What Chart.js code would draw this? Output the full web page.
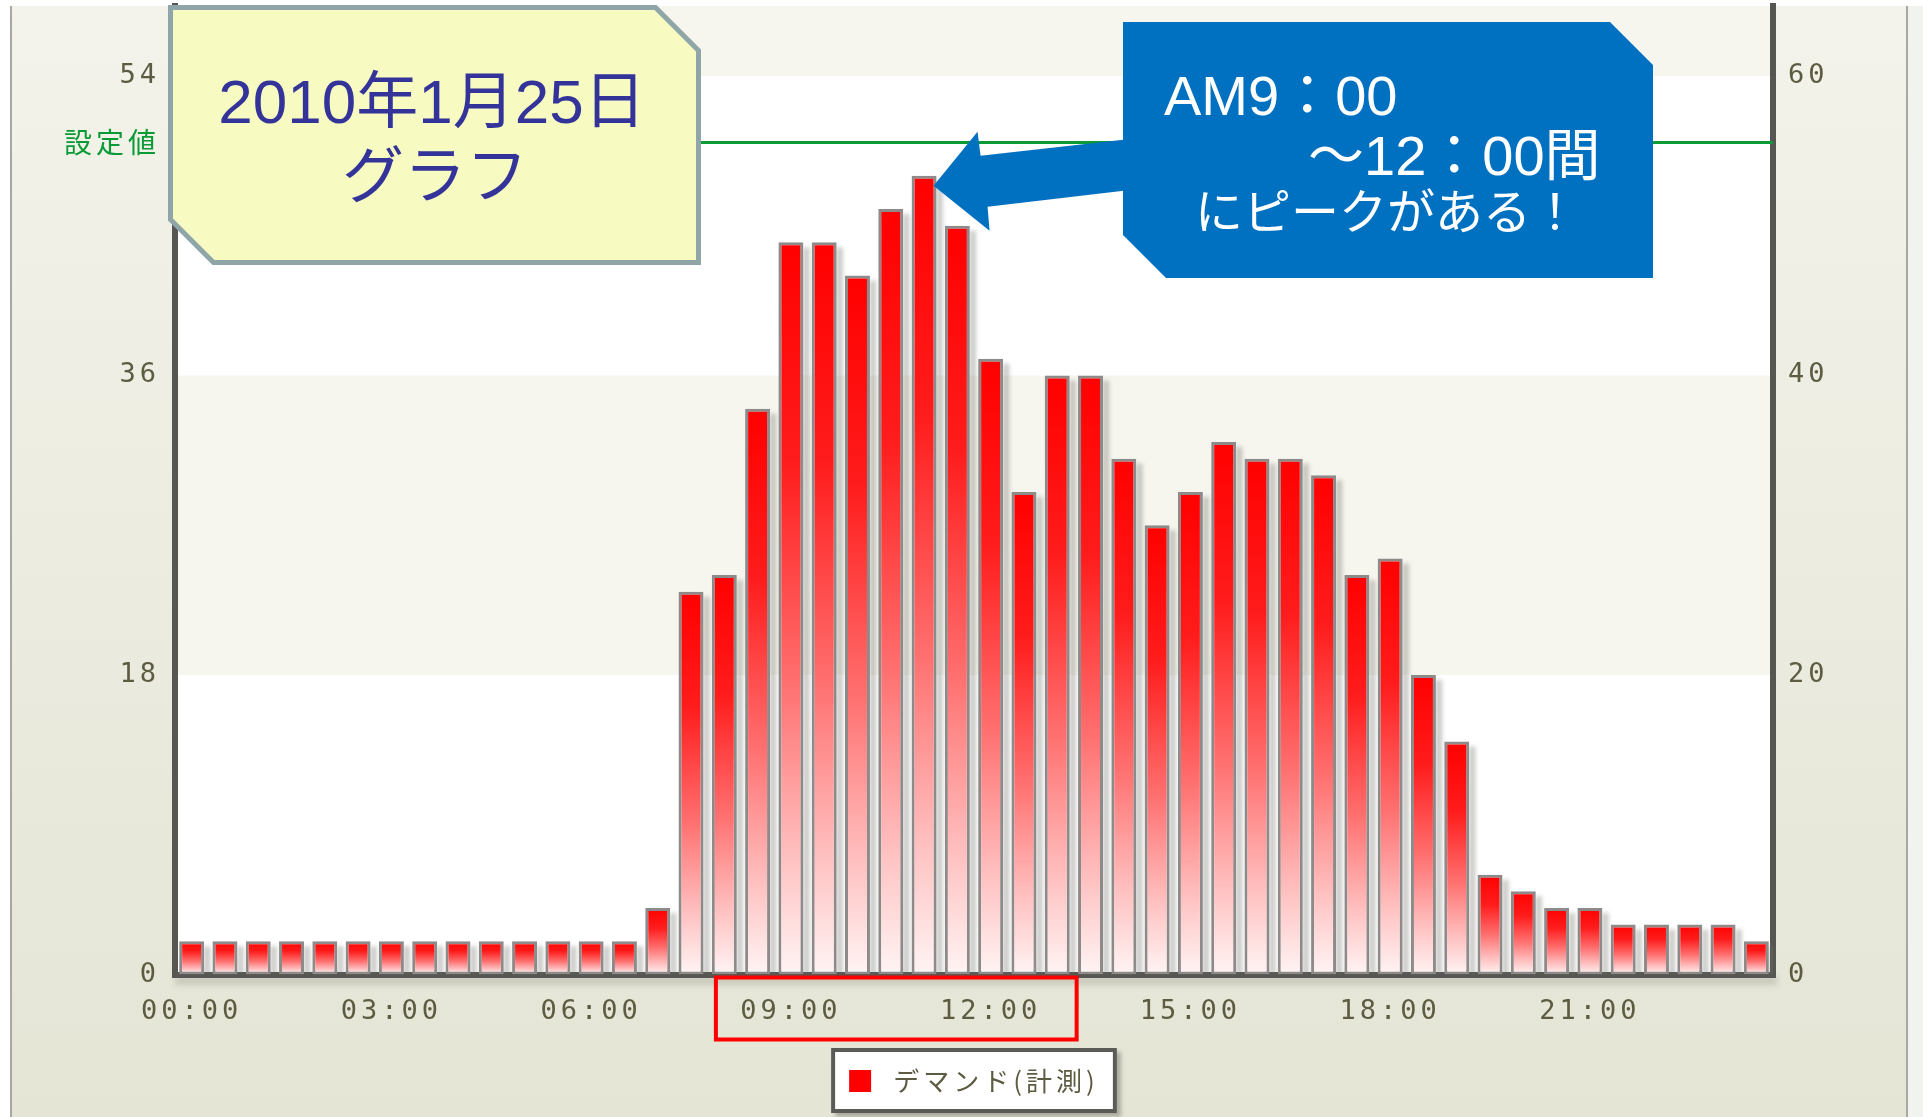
<!DOCTYPE html>
<html lang="ja">
<head>
<meta charset="utf-8">
<title>デマンドグラフ 2010年1月25日</title>
<script src="https://cdn.jsdelivr.net/npm/chart.js@4.4.1/dist/chart.umd.min.js"></script>
<style>
  html, body { margin: 0; padding: 0; background: #ffffff; overflow: hidden; }
  canvas { display: block; }
</style>
</head>
<body>
<canvas id="demand" width="1923" height="1117"></canvas>
<script>
// 30-minute demand readings for 2010-01-25
const timeLabels = [
  '00:00','00:30','01:00','01:30','02:00','02:30','03:00','03:30',
  '04:00','04:30','05:00','05:30','06:00','06:30','07:00','07:30',
  '08:00','08:30','09:00','09:30','10:00','10:30','11:00','11:30',
  '12:00','12:30','13:00','13:30','14:00','14:30','15:00','15:30',
  '16:00','16:30','17:00','17:30','18:00','18:30','19:00','19:30',
  '20:00','20:30','21:00','21:30','22:00','22:30','23:00','23:30'
];
const demandValues = [
  2, 2, 2, 2, 2, 2, 2, 2,
  2, 2, 2, 2, 2, 2, 4, 23,
  24, 34, 44, 44, 42, 46, 48, 45,
  37, 29, 36, 36, 31, 27, 29, 32,
  31, 31, 30, 24, 25, 18, 14, 6,
  5, 4, 4, 3, 3, 3, 3, 2
];
const seriesName = 'デマンド(計測)';
const leftTicks = [0, 18, 36, 54];
const rightTicks = [0, 20, 40, 60];
const setpointValue = 50;
const setpointLabel = '設定値';
const leftMax = 58.2;
const shadedBands = [[18, 36], [54, leftMax]];
const dateNote = ['2010年1月25日', 'グラフ'];
const peakNote = ['AM9：00', '～12：00間', 'にピークがある！'];
const peakRange = ['09:00', '12:00'];
const peakTime = '11:00';

const TICK_COLOR = '#5d5b41';
const AXIS_COLOR = '#565652';
const SET_COLOR = '#0a9a36';
const SPACING = '4px';

// vertical red-to-pale fill for each bar, measured on the value axis
function barGradient(c) {
  const chart = c.chart;
  if (!chart.chartArea || typeof c.raw !== 'number') return '#ff0000';
  const y = chart.scales.y;
  const top = y.getPixelForValue(c.raw);
  const bottom = y.getPixelForValue(0);
  const g = chart.ctx.createLinearGradient(0, top, 0, bottom);
  g.addColorStop(0, '#ff0000');
  g.addColorStop(0.3, '#ff1c1c');
  g.addColorStop(0.6, '#ff6f6f');
  g.addColorStop(0.85, '#ffc4c4');
  g.addColorStop(1, '#fff4f4');
  return g;
}

function notePath(ctx, l, t, r, b, cut) {
  ctx.beginPath();
  ctx.moveTo(l, t);
  ctx.lineTo(r - cut, t);
  ctx.lineTo(r, t + cut);
  ctx.lineTo(r, b);
  ctx.lineTo(l + cut, b);
  ctx.lineTo(l, b - cut);
  ctx.closePath();
}

// panel background, shaded bands, legend frame
const frameDecor = {
  id: 'frameDecor',
  beforeLayout(chart) { chart.ctx.letterSpacing = SPACING; },
  beforeDraw(chart) {
    const { ctx, width, height, chartArea: a, scales: { y } } = chart;
    ctx.save();
    ctx.fillStyle = '#ffffff';
    ctx.fillRect(0, 0, width, height);
    const g = ctx.createLinearGradient(0, 6, 0, height);
    g.addColorStop(0, '#f3f3eb');
    g.addColorStop(1, '#e4e5d5');
    ctx.fillStyle = g;
    ctx.fillRect(11, 6, 1896, height - 6);
    ctx.fillStyle = '#f1f3ee';
    ctx.fillRect(1908, 6, width - 1908, height - 6);
    ctx.fillStyle = '#a7a7a3';
    ctx.fillRect(10, 6, 2, height - 6);
    ctx.fillRect(1906, 6, 2, height - 6);

    ctx.fillStyle = '#ffffff';
    ctx.fillRect(a.left, a.top, a.width, a.height);
    ctx.fillStyle = '#f6f6ef';
    shadedBands.forEach(([lo, hi]) => {
      const t = y.getPixelForValue(hi);
      const b = y.getPixelForValue(lo);
      ctx.fillRect(a.left, t, a.width, b - t);
    });

    // shadow below the category axis
    ctx.filter = 'blur(3px)';
    ctx.fillStyle = 'rgba(80,80,70,0.22)';
    ctx.fillRect(a.left, a.bottom + 2, a.width + 4, 8);
    ctx.filter = 'none';

    // white legend frame
    const hb = chart.legend && chart.legend.legendHitBoxes && chart.legend.legendHitBoxes[0];
    if (hb) {
      const cy = hb.top + hb.height / 2;
      const l = hb.left - 18, r = hb.left + hb.width + 18;
      const t = cy - 33, b = cy + 32;
      ctx.filter = 'blur(2px)';
      ctx.fillStyle = 'rgba(60,60,50,0.35)';
      ctx.fillRect(l + 4, t + 4, r - l, b - t);
      ctx.filter = 'none';
      ctx.fillStyle = '#ffffff';
      ctx.fillRect(l, t, r - l, b - t);
      ctx.strokeStyle = '#5a5a56';
      ctx.lineWidth = 4;
      ctx.strokeRect(l + 2, t + 2, r - l - 4, b - t - 4);
    }
    ctx.restore();
    ctx.letterSpacing = SPACING;
  },
  beforeDatasetsDraw(chart) {
    const { ctx, chartArea: a, scales: { y } } = chart;
    ctx.save();
    ctx.beginPath();
    ctx.rect(a.left, a.top, a.width, a.height);
    ctx.clip();
    // setpoint line
    const sy = y.getPixelForValue(setpointValue);
    ctx.strokeStyle = SET_COLOR;
    ctx.lineWidth = 3;
    ctx.beginPath();
    ctx.moveTo(a.left, sy);
    ctx.lineTo(a.right, sy);
    ctx.stroke();
    // soft shadow to the right of every bar
    const meta = chart.getDatasetMeta(0);
    ctx.filter = 'blur(2px)';
    ctx.fillStyle = 'rgba(110,110,105,0.38)';
    meta.data.forEach(bar => {
      const { x, y: top, width, base } = bar.getProps(['x', 'y', 'width', 'base'], true);
      ctx.fillRect(x + width / 2, top + 5, 6, base - top - 5);
    });
    ctx.restore();
  }
};

// callout boxes, arrow and highlight around the peak hours
const notes = {
  id: 'notes',
  afterDraw(chart) {
    const { ctx, chartArea: a, scales: { x } } = chart;
    ctx.save();
    ctx.letterSpacing = '0px';

    const i0 = timeLabels.indexOf(peakRange[0]);
    const i1 = timeLabels.indexOf(peakRange[1]);
    const rl = x.getPixelForValue(i0) - 75;
    const rr = x.getPixelForValue(i1) + 86;
    ctx.strokeStyle = '#ff0000';
    ctx.lineWidth = 4;
    ctx.strokeRect(rl, a.bottom + 3, rr - rl, 62);

    // date note
    notePath(ctx, 170.5, 7.5, 698.5, 262.5, 43);
    ctx.fillStyle = '#f7fbc1';
    ctx.fill();
    ctx.strokeStyle = '#8fa5a8';
    ctx.lineWidth = 5;
    ctx.lineJoin = 'miter';
    ctx.stroke();
    ctx.fillStyle = '#333399';
    ctx.textAlign = 'center';
    ctx.textBaseline = 'alphabetic';
    ctx.font = '62px "Liberation Sans", "Noto Sans CJK JP", sans-serif';
    ctx.fillText(dateNote[0], 432, 123);
    ctx.fillText(dateNote[1], 435, 198);

    // arrow from the peak note to the highest bar
    const pk = chart.getDatasetMeta(0).data[timeLabels.indexOf(peakTime)];
    const p = pk.getProps(['x', 'y', 'width'], true);
    const tx = p.x + p.width / 2 - 3, ty = p.y + 10;
    ctx.fillStyle = '#0070c0';
    ctx.beginPath();
    ctx.moveTo(tx, ty);
    ctx.lineTo(tx + 44, ty - 54);
    ctx.lineTo(tx + 47, ty - 30);
    ctx.lineTo(1130, 139);
    ctx.lineTo(1130, 190);
    ctx.lineTo(tx + 54, ty + 21);
    ctx.lineTo(tx + 56, ty + 45);
    ctx.closePath();
    ctx.fill();

    notePath(ctx, 1123, 22, 1653, 278, 43);
    ctx.fill();
    ctx.fillStyle = '#ffffff';
    ctx.textAlign = 'left';
    ctx.font = '56px "Liberation Sans", "Noto Sans CJK JP", sans-serif';
    ctx.fillText(peakNote[0], 1164, 115);
    ctx.fillText(peakNote[1], 1308, 175);
    ctx.font = '48px "Liberation Sans", "Noto Sans CJK JP", sans-serif';
    ctx.fillText(peakNote[2], 1195, 229);
    ctx.restore();
  }
};

const tickFont = { family: '"DejaVu Sans Mono", monospace', size: 27 };
const axisBorder = { display: true, color: AXIS_COLOR, width: 6 };
const noGrid = { display: false, drawTicks: false, lineWidth: 6 };

// fixed axis band sizes, with no extra room reserved for end labels
function fixVertical(width) {
  return s => { s.width = width; s.paddingTop = 0; s.paddingBottom = 0; };
}

new Chart(document.getElementById('demand'), {
  type: 'bar',
  data: {
    labels: timeLabels,
    datasets: [{
      label: seriesName,
      data: demandValues,
      yAxisID: 'y',
      backgroundColor: barGradient,
      borderColor: '#8e8a8a',
      borderWidth: 3,
      borderSkipped: false,
      barPercentage: 0.75,
      categoryPercentage: 1.0
    }]
  },
  options: {
    responsive: false,
    animation: false,
    devicePixelRatio: 1,
    events: [],
    layout: { padding: { left: 0, right: 0, top: 6, bottom: 13 } },
    plugins: {
      tooltip: { enabled: false },
      legend: {
        position: 'bottom',
        fullSize: false,
        labels: {
          boxWidth: 22,
          boxHeight: 22,
          padding: 10,
          color: TICK_COLOR,
          font: { family: '"Noto Sans CJK JP", sans-serif', size: 26 },
          generateLabels: () => [{
            text: '\u2009' + seriesName,
            fillStyle: '#ff0000',
            strokeStyle: '#ff0000',
            lineWidth: 0,
            hidden: false,
            datasetIndex: 0,
            fontColor: TICK_COLOR
          }]
        }
      }
    },
    scales: {
      x: {
        type: 'category',
        z: 1,
        grid: noGrid,
        border: axisBorder,
        ticks: {
          autoSkip: false,
          maxRotation: 0,
          minRotation: 0,
          padding: 21,
          color: TICK_COLOR,
          font: tickFont,
          callback: (v, i) => (i % 6 === 0 ? timeLabels[i] : '')
        },
        afterFit: s => { s.height = 83.5; s.paddingLeft = 0; s.paddingRight = 0; }
      },
      y: {
        position: 'left',
        z: 1,
        min: 0,
        max: leftMax,
        grid: noGrid,
        border: axisBorder,
        afterBuildTicks: s => {
          s.ticks = [...leftTicks, setpointValue].sort((p, q) => p - q).map(v => ({ value: v }));
        },
        ticks: {
          padding: 15,
          color: c => (c.tick && c.tick.value === setpointValue ? SET_COLOR : TICK_COLOR),
          font: c => (c.tick && c.tick.value === setpointValue
            ? { family: '"Noto Sans CJK JP", sans-serif', size: 28 }
            : tickFont),
          callback: v => (v === setpointValue ? setpointLabel : String(v))
        },
        afterFit: fixVertical(175)
      },
      y1: {
        position: 'right',
        z: 1,
        min: 0,
        max: leftMax * rightTicks[rightTicks.length - 1] / leftTicks[leftTicks.length - 1],
        grid: noGrid,
        border: axisBorder,
        afterBuildTicks: s => { s.ticks = rightTicks.map(v => ({ value: v })); },
        ticks: {
          padding: 15,
          color: TICK_COLOR,
          font: tickFont,
          callback: v => String(v)
        },
        afterFit: fixVertical(150)
      }
    }
  },
  plugins: [frameDecor, notes]
});
</script>
</body>
</html>
